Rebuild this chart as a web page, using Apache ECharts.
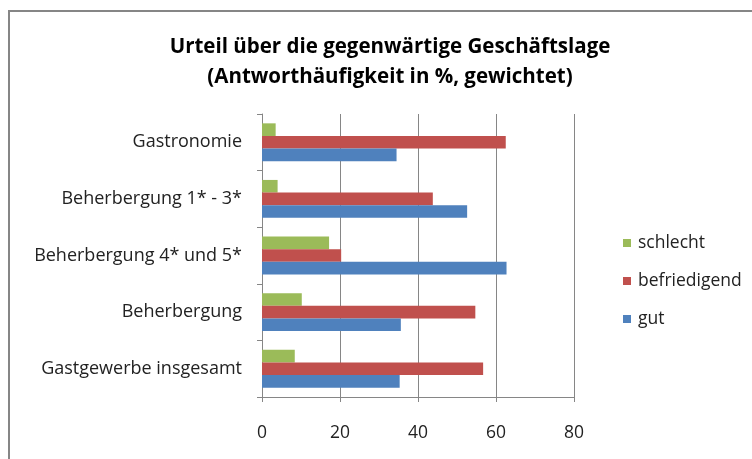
<!DOCTYPE html>
<html>
<head>
<meta charset="utf-8">
<script src="https://cdn.jsdelivr.net/npm/echarts@6/dist/echarts.min.js"></script>
<style>
  html, body { margin: 0; padding: 0; background: #fff; }
  #chart { width: 752px; height: 459px; }
</style>
</head>
<body>
<div id="chart"></div>
<script>
// Kategorien (von unten nach oben)
var categories = ['Gastgewerbe insgesamt', 'Beherbergung', 'Beherbergung 4* und 5*', 'Beherbergung 1* - 3*', 'Gastronomie'];
var gut = [35.3, 35.6, 62.7, 52.6, 34.5];
var befriedigend = [56.7, 54.7, 20.3, 43.8, 62.5];
var schlecht = [8.4, 10.2, 17.2, 4.0, 3.5];
var xTicks = [0, 20, 40, 60, 80];

var font = 'Open Sans';
var chart = echarts.init(document.getElementById('chart'));
var option = {
    animation: false,
    backgroundColor: '#ffffff',
    title: {
        text: 'Urteil über die gegenwärtige Geschäftslage\n(Antworthäufigkeit in %, gewichtet)',
        left: 385,
        textAlign: 'center',
        top: 27,
        textStyle: {
            fontFamily: font,
            fontSize: 20.5,
            fontWeight: 'bold',
            color: '#000000',
            lineHeight: 30
        }
    },
    // Rahmen links/oben wie im Original
    graphic: [{
        type: 'rect',
        shape: { x: 9, y: 11, width: 900, height: 600 },
        style: { fill: 'none', stroke: '#868686', lineWidth: 2 },
        silent: true
    }],
    legend: {
        orient: 'vertical',
        left: 618,
        top: 229,
        itemWidth: 8,
        itemHeight: 8,
        itemGap: 20,
        icon: 'rect',
        data: ['schlecht', 'befriedigend', 'gut'],
        textStyle: { fontFamily: font, fontSize: 17.5, color: '#222222', padding: [0, 0, 0, 2] }
    },
    grid: {
        left: 262,
        right: 178,
        top: 114,
        bottom: 62
    },
    xAxis: {
        type: 'value',
        min: xTicks[0],
        max: xTicks[xTicks.length - 1],
        interval: 20,
        axisLine: { show: true, lineStyle: { color: '#868686', width: 1 } },
        axisTick: { show: true, length: 5, lineStyle: { color: '#868686' } },
        axisLabel: { fontFamily: font, fontSize: 17.5, color: '#222222', margin: 27 },
        splitLine: { show: true, lineStyle: { color: '#868686', width: 1 } }
    },
    yAxis: {
        type: 'category',
        data: categories,
        axisLine: { show: true, lineStyle: { color: '#868686', width: 1 } },
        axisTick: { show: true, length: 5, lineStyle: { color: '#868686' } },
        axisLabel: { fontFamily: font, fontSize: 18, color: '#222222', margin: 20 }
    },
    // Reihenfolge im Balkenbündel: oben schlecht, dann befriedigend, unten gut
    series: [
        {
            name: 'schlecht', type: 'bar', data: schlecht,
            barGap: '0%', barCategoryGap: '33%',
            itemStyle: { color: '#9BBB59' }
        },
        {
            name: 'befriedigend', type: 'bar', data: befriedigend,
            itemStyle: { color: '#C0504D' }
        },
        {
            name: 'gut', type: 'bar', data: gut,
            itemStyle: { color: '#4F81BD' }
        }
    ]
};
chart.setOption(option);
</script>
</body>
</html>
